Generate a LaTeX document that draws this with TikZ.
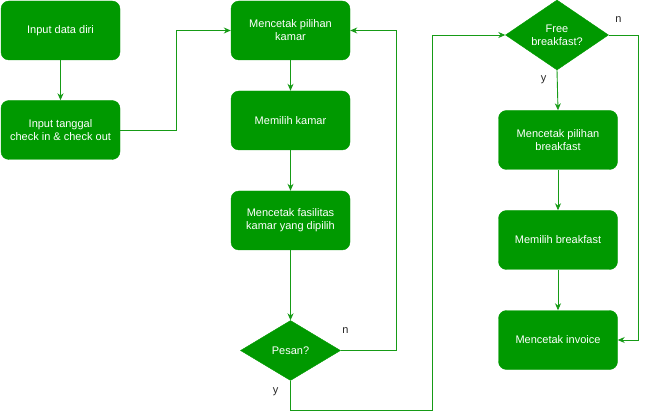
\documentclass[tikz,border=0pt]{standalone}
\usepackage{fontspec}
\setmainfont{Liberation Sans}
\usetikzlibrary{shapes.geometric,arrows.meta}
\definecolor{gfill}{HTML}{009900}
\definecolor{gline}{HTML}{169B16}
\begin{document}
\begin{tikzpicture}[x=1pt,y=-1pt,
  box/.style={draw=gfill, fill=gfill, rounded corners=8pt, minimum width=119pt, minimum height=59pt, inner sep=0pt, text=white, align=center, font=\fontsize{11}{13}\selectfont},
  dec/.style={draw=gfill, fill=gfill, diamond, inner sep=0pt, text=white, align=center, font=\fontsize{11}{13}\selectfont},
  conn/.style={draw=gline, line width=0.9pt, -{Stealth[length=7pt,width=6pt]}},
  lab/.style={font=\fontsize{11}{13}\selectfont, text=black!85}]
\useasboundingbox (0,0) rectangle (647,419);
\node[box] (b1) at (60.5,30.5) {Input data diri};
\node[box] (b2) at (60.5,130) {Input tanggal\\check in \& check out};
\node[box] (b3) at (290.5,30.5) {Mencetak pilihan\\kamar};
\node[box] (b4) at (290.5,120.5) {Memilih kamar};
\node[box] (b5) at (290.5,220.5) {Mencetak fasilitas\\kamar yang dipilih};
\node[dec, minimum width=100pt, minimum height=60pt, shape aspect=1.67] (d1) at (290.5,350.5) {Pesan?};
\node[dec, minimum width=103pt, minimum height=70pt, shape aspect=1.47] (d2) at (557,35) {Free\\breakfast?};
\node[box] (b6) at (558,140) {Mencetak pilihan\\breakfast};
\node[box] (b7) at (558,240) {Memilih breakfast};
\node[box] (b8) at (558,340) {Mencetak invoice};
\coordinate (p1) at (176,130);
\coordinate (p2) at (176,30.5);
\coordinate (p3) at (396,350.5);
\coordinate (p4) at (396,30.5);
\coordinate (p5) at (290.5,410);
\coordinate (p6) at (432,410);
\coordinate (p7) at (432,35);
\coordinate (p8) at (638,35);
\coordinate (p9) at (638,340);
\draw[conn] (b1) -- (b2);
\draw[conn] (b2.east) -- (p1) -- (p2) -- (b3.west);
\draw[conn] (b3) -- (b4);
\draw[conn] (b4) -- (b5);
\draw[conn] (b5) -- (d1);
\draw[conn] (d1.east) -- (p3) -- (p4) -- (b3.east);
\draw[conn] (d1.south) -- (p5) -- (p6) -- (p7) -- (d2.west);
\draw[conn] (d2.south) -- (b6.north);
\draw[conn] (b6) -- (b7);
\draw[conn] (b7) -- (b8);
\draw[conn] (d2.east) -- (p8) -- (p9) -- (b8.east);
\node[lab] (n1) at (345.5,331) {n};
\node[lab] (y1) at (275.5,392) {y};
\node[lab] (n2) at (618.5,20) {n};
\node[lab] (y2) at (543.5,80) {y};
\end{tikzpicture}
\end{document}
